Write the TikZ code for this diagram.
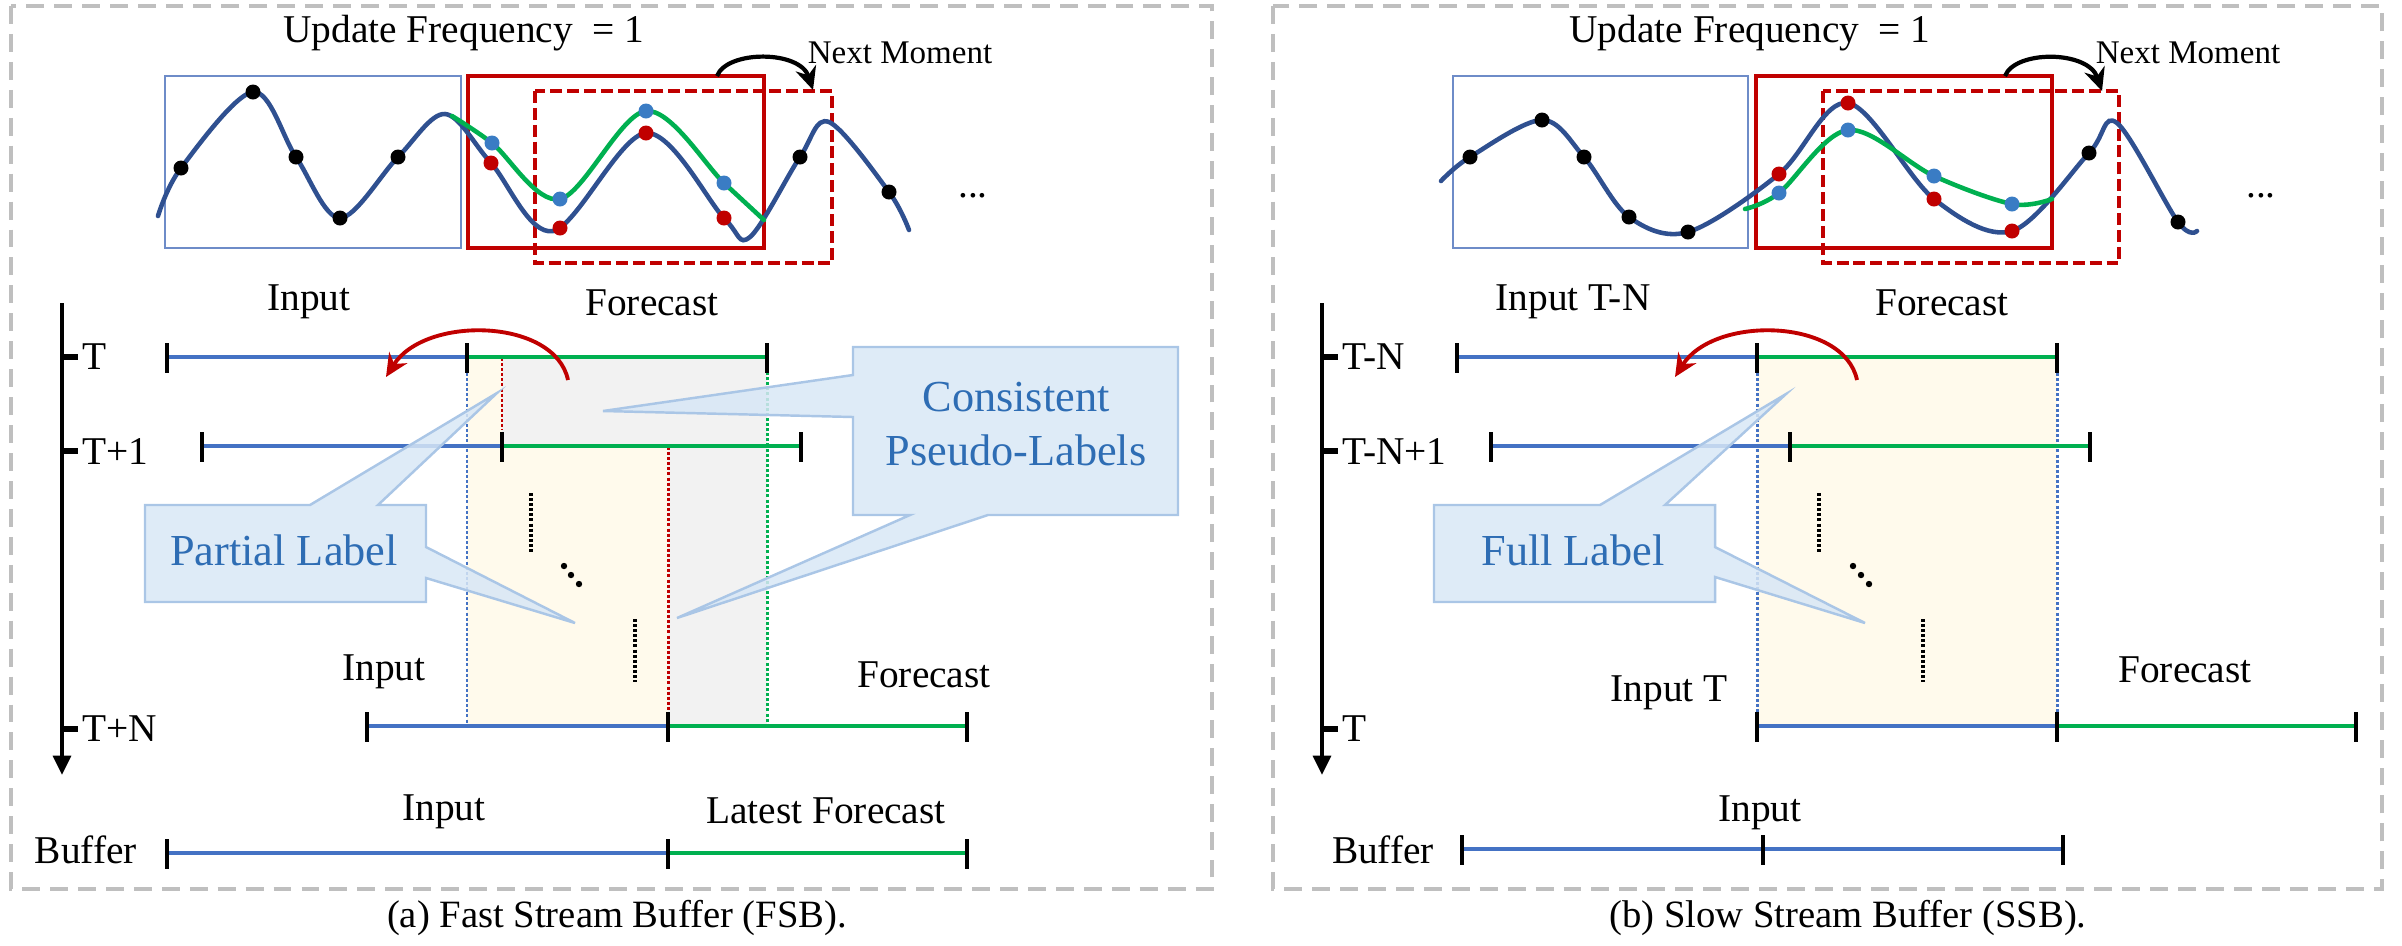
\documentclass[tikz,border=0pt]{standalone}
\usepackage{fontspec}
\setmainfont{Liberation Serif}
\usetikzlibrary{arrows.meta}
\definecolor{wavec}{HTML}{2F5090}
\definecolor{inc}{HTML}{4472C4}
\definecolor{fcc}{HTML}{00B050}
\definecolor{redc}{HTML}{C00000}
\definecolor{dotblue}{HTML}{3A7CC4}
\definecolor{calfill}{HTML}{D8E7F6}
\definecolor{caldraw}{HTML}{AAC6E6}
\definecolor{caltext}{HTML}{2E6DB4}
\definecolor{yellowf}{HTML}{FFFAEC}
\definecolor{grayf}{HTML}{F2F2F2}
\definecolor{bord}{HTML}{BFBFBF}
\definecolor{rectblue}{HTML}{6E8CC8}
\newcommand\lblfont{\rmfamily\fontsize{11.2}{13}\selectfont}
\newcommand\calfont{\rmfamily\fontsize{12.6}{15.5}\selectfont}
\newcommand\nmfont{\rmfamily\fontsize{9.4}{11}\selectfont}
\newcommand\capfont{\rmfamily\fontsize{11}{13}\selectfont}
\tikzset{
  lbl/.style={font=\lblfont, inner sep=0pt},
  wave/.style={wavec, line width=1.3pt, line cap=round},
  fcwave/.style={fcc, line width=1.3pt, line cap=round},
  inline/.style={inc, line width=1.25pt},
  fcline/.style={fcc, line width=1.25pt},
  tickmark/.style={black, line width=1.05pt},
  vdot/.style={line width=0.85pt, dash pattern=on 0.85pt off 0.6pt},
  border/.style={bord, line width=1.15pt, dash pattern=on 5.1pt off 2.85pt},
  callout/.style={fill=calfill, draw=caldraw, line width=0.7pt, fill opacity=0.85},
  caltxt/.style={font=\calfont, text=caltext, align=center, inner sep=0pt},
  redrect/.style={redc, line width=0.95pt},
  reddash/.style={redc, line width=0.95pt, dash pattern=on 3.4pt off 1.4pt},
  bluerect/.style={rectblue, line width=0.45pt},
  axisline/.style={black, line width=1.2pt},
  axtick/.style={black, line width=1.5pt},
  redarc/.style={redc, line width=1.1pt, -{Stealth[length=6.5pt,width=6pt]}},
  nextarc/.style={black, line width=1.2pt, -{Stealth[length=6.5pt,width=6pt]}},
}
\newcommand{\tlrow}[5]{%
  \coordinate (#1-a) at (#3,#2);
  \coordinate (#1-b) at (#4,#2);
  \coordinate (#1-c) at (#5,#2);
  \draw[inline] (#1-a) -- (#1-b);
  \draw[fcline] (#1-b) -- (#1-c);
  \draw[tickmark] (#3,#2-14) -- (#3,#2+16);
  \draw[tickmark] (#4,#2-14) -- (#4,#2+16);
  \draw[tickmark] (#5,#2-14) -- (#5,#2+16);
}
\newcommand{\bdot}[3]{\fill[#1] (#2,#3) circle[radius=0.75mm];}
\begin{document}
\begin{tikzpicture}[x=0.1mm,y=-0.1mm]
\useasboundingbox (0,0) rectangle (2402,945);

% panel borders
\draw[border] (11,6) rectangle (1212,889);
\draw[border] (1273,6) rectangle (2382,889);

% ---------------- LEFT PANEL ----------------
\fill[yellowf] (467,357) -- (502,357) -- (502,446) -- (668,446) -- (668,726) -- (467,726) -- cycle;
\fill[grayf] (502,357) -- (767,357) -- (767,726) -- (668,726) -- (668,446) -- (502,446) -- cycle;
\draw[vdot, inc] (467,373) -- (467,726);
\draw[vdot, redc] (502,358) -- (502,430);
\draw[vdot, redc] (668,447) -- (668,712);
\draw[vdot, fcc] (767,367) -- (767,726);
\draw[vdot, black, line width=1pt] (531,493) -- (531,554);
\draw[vdot, black, line width=1pt] (635,619) -- (635,682);
\fill (564,566) circle[radius=0.32mm];
\fill (571,575) circle[radius=0.32mm];
\fill (579,584) circle[radius=0.32mm];
\tlrow{LA}{357}{167}{467}{767}
\tlrow{LB}{446}{202}{502}{801}
\tlrow{LC}{726}{367}{668}{967}
\tlrow{LD}{853}{167}{668}{967}
\coordinate (lax0) at (62,303);
\coordinate (lax1) at (62,775);
\draw[axisline, -{Triangle[length=5.5pt,width=5pt]}] (lax0) -- (lax1);
\draw[axtick] (62,357) -- (78,357);
\draw[axtick] (62,451) -- (78,451);
\draw[axtick] (62,729) -- (78,729);

\draw[bluerect] (165,76) rectangle (461,248);
\draw[redrect] (468,76) rectangle (764,248);
\draw[reddash] (535,91) rectangle (832,263);
\draw[wave] plot[smooth, tension=0.55] coordinates {(158,216) (181,168) (253,92) (296,157) (340,218) (398,157) (445,114) (491,163) (553,231) (646,133) (724,218) (750,237) (800,157) (829,122) (889,192) (909,230)};
\draw[fcwave] plot[smooth, tension=0.55] coordinates {(452,116) (492,143) (560,199) (646,111) (724,183) (764,220)};
\bdot{black}{181}{168}\bdot{black}{253}{92}\bdot{black}{296}{157}\bdot{black}{340}{218}\bdot{black}{398}{157}\bdot{black}{800}{157}\bdot{black}{889}{192}
\bdot{redc}{491}{163}\bdot{redc}{560}{228}\bdot{redc}{646}{133}\bdot{redc}{724}{218}
\bdot{dotblue}{492}{143}\bdot{dotblue}{560}{199}\bdot{dotblue}{646}{111}\bdot{dotblue}{724}{183}
\coordinate (lnm0) at (717,76);
\coordinate (lnm1) at (813,90);
\draw[nextarc] (lnm0) .. controls (727,50) and (800,50) .. (lnm1);
\coordinate (lra0) at (568,380);
\coordinate (lra1) at (386,377);
\draw[redarc] (lra0) .. controls (555,318) and (425,315) .. (lra1);

\draw[callout] (145,505) -- (310,505) -- (497,393) -- (378,505) -- (426,505) -- (426,547) -- (575,623) -- (426,578) -- (426,602) -- (145,602) -- cycle;
\draw[callout] (853,347) -- (1178,347) -- (1178,515) -- (988,515) -- (677,618) -- (910,515) -- (853,515) -- (853,417) -- (603,411) -- (853,375) -- cycle;
\node[caltxt] (pl) at (284,550) {Partial Label};
\node[caltxt] (cpl) at (1016,424) {Consistent\\Pseudo-Labels};

\node[lbl] (uf1) at (464,33) {Update Frequency\ \ = 1};
\node[font=\nmfont, inner sep=0pt] (nm1) at (900,53) {Next Moment};
\node[lbl, anchor=base] (el1) at (973,197) {...};
\node[lbl] (li1) at (309,302) {Input};
\node[lbl] (lf1) at (652,303) {Forecast};
\node[lbl, anchor=west] (lt0) at (82,357) {T};
\node[lbl, anchor=west] (lt1) at (82,451) {T+1};
\node[lbl, anchor=west] (lt2) at (82,729) {T+N};
\node[lbl] (li2) at (384,672) {Input};
\node[lbl] (lf2) at (924,675) {Forecast};
\node[lbl] (lbuf) at (86,850) {Buffer};
\node[lbl] (li3) at (444,812) {Input};
\node[lbl] (lf3) at (826,811) {Latest Forecast};
\node[font=\capfont, inner sep=0pt] (capa) at (617,918) {(a) Fast Stream Buffer (FSB).};

% ---------------- RIGHT PANEL ----------------
\fill[yellowf] (1757,357) rectangle (2057,726);
\draw[vdot, inc] (1757,373) -- (1757,726);
\draw[vdot, inc] (2057,373) -- (2057,726);
\draw[vdot, black, line width=1pt] (1819,493) -- (1819,554);
\draw[vdot, black, line width=1pt] (1923,619) -- (1923,682);
\fill (1853,566) circle[radius=0.32mm];
\fill (1861,575) circle[radius=0.32mm];
\fill (1869,584) circle[radius=0.32mm];
\tlrow{RA}{357}{1457}{1757}{2057}
\tlrow{RB}{446}{1491}{1790}{2090}
\tlrow{RC}{726}{1757}{2057}{2356}
\coordinate (RD-a) at (1462,849);
\coordinate (RD-c) at (2063,849);
\draw[inline] (RD-a) -- (RD-c);
\draw[tickmark] (1462,835) -- (1462,865);
\draw[tickmark] (1763,835) -- (1763,865);
\draw[tickmark] (2063,835) -- (2063,865);
\coordinate (rax0) at (1322,303);
\coordinate (rax1) at (1322,775);
\draw[axisline, -{Triangle[length=5.5pt,width=5pt]}] (rax0) -- (rax1);
\draw[axtick] (1322,357) -- (1338,357);
\draw[axtick] (1322,451) -- (1338,451);
\draw[axtick] (1322,729) -- (1338,729);

\draw[bluerect] (1453,76) rectangle (1748,248);
\draw[redrect] (1756,76) rectangle (2052,248);
\draw[reddash] (1823,91) rectangle (2119,263);
\draw[wave] plot[smooth, tension=0.55] coordinates {(1441,181) (1470,157) (1542,120) (1584,157) (1629,217) (1688,232) (1779,174) (1848,103) (1934,199) (2012,231) (2089,153) (2117,123) (2178,222) (2197,231)};
\draw[fcwave] plot[smooth, tension=0.55] coordinates {(1745,209) (1779,193) (1848,130) (1934,176) (2012,204) (2052,199)};
\bdot{black}{1470}{157}\bdot{black}{1542}{120}\bdot{black}{1584}{157}\bdot{black}{1629}{217}\bdot{black}{1688}{232}\bdot{black}{2089}{153}\bdot{black}{2178}{222}
\bdot{redc}{1779}{174}\bdot{redc}{1848}{103}\bdot{redc}{1934}{199}\bdot{redc}{2012}{231}
\bdot{dotblue}{1779}{193}\bdot{dotblue}{1848}{130}\bdot{dotblue}{1934}{176}\bdot{dotblue}{2012}{204}
\coordinate (rnm0) at (2005,76);
\coordinate (rnm1) at (2102,91);
\draw[nextarc] (rnm0) .. controls (2015,50) and (2088,50) .. (rnm1);
\coordinate (rra0) at (1857,380);
\coordinate (rra1) at (1675,377);
\draw[redarc] (rra0) .. controls (1844,318) and (1714,315) .. (rra1);

\draw[callout] (1434,505) -- (1600,505) -- (1786,394) -- (1665,505) -- (1715,505) -- (1715,547) -- (1865,623) -- (1715,577) -- (1715,602) -- (1434,602) -- cycle;
\node[caltxt] (fl) at (1573,550) {Full Label};

\node[lbl] (uf2) at (1750,33) {Update Frequency\ \ = 1};
\node[font=\nmfont, inner sep=0pt] (nm2) at (2188,53) {Next Moment};
\node[lbl, anchor=base] (el2) at (2261,197) {...};
\node[lbl] (ri1) at (1573,302) {Input T-N};
\node[lbl] (rf1) at (1942,303) {Forecast};
\node[lbl, anchor=west] (rt0) at (1342,357) {T-N};
\node[lbl, anchor=west] (rt1) at (1342,451) {T-N+1};
\node[lbl, anchor=west] (rt2) at (1342,729) {T};
\node[lbl] (ri2) at (1669,693) {Input T};
\node[lbl] (rf2) at (2185,670) {Forecast};
\node[lbl] (rbuf) at (1383,850) {Buffer};
\node[lbl] (ri3) at (1760,813) {Input};
\node[font=\capfont, inner sep=0pt] (capb) at (1848,918) {(b) Slow Stream Buffer (SSB).};
\end{tikzpicture}
\end{document}
